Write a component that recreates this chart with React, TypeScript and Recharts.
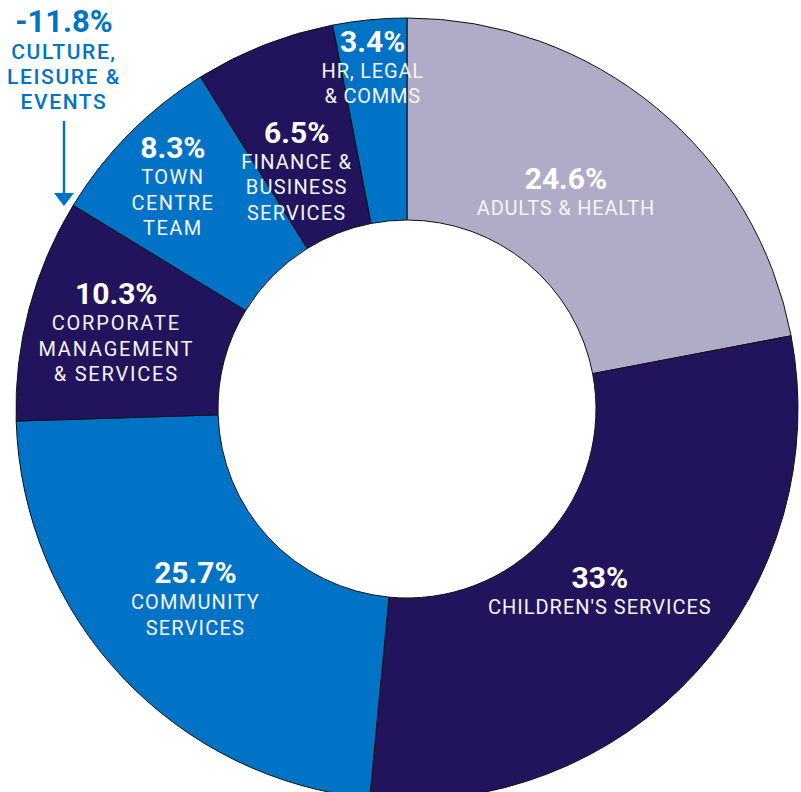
import { Cell, Pie, PieChart } from "recharts";

// Share of the budget by directorate (positive shares fill the ring)
const categories = [
  "Adults & Health",
  "Children's Services",
  "Community Services",
  "Corporate Management & Services",
  "Town Centre Team",
  "Finance & Business Services",
  "HR, Legal & Comms",
];
const shares = [24.6, 33, 25.7, 10.3, 8.3, 6.5, 3.4];
const labelLines = [
  ["ADULTS & HEALTH"],
  ["CHILDREN'S SERVICES"],
  ["COMMUNITY", "SERVICES"],
  ["CORPORATE", "MANAGEMENT", "& SERVICES"],
  ["TOWN", "CENTRE", "TEAM"],
  ["FINANCE &", "BUSINESS", "SERVICES"],
  ["HR, LEGAL", "& COMMS"],
];

// The one negative share, shown outside the ring
const negativeCategory = "Culture, Leisure & Events";
const negativeShare = -11.8;
const negativeLines = ["CULTURE,", "LEISURE &", "EVENTS"];

const LAVENDER = "#B0ACC7";
const NAVY = "#21145D";
const BLUE = "#0073C7";
const sliceColors = [LAVENDER, NAVY, BLUE, NAVY, BLUE, NAVY, BLUE];

// label placement: radius from centre and angle nudge (deg, counter-clockwise)
const labelLayout = [
  { r: 271, da: 3.7, ls: 0.8 },
  { r: 263, da: -0.5, ls: 1 },
  { r: 274, da: -3.7, ls: 1.2 },
  { r: 309, da: -5, ls: 1.8 },
  { r: 343, da: -2.2, ls: 1.5 },
  { r: 288, da: 1.1, ls: 1.2 },
  { r: 359, da: 0, ls: 0.8 },
];

const data = categories.map((name, i) => ({
  name,
  value: shares[i],
  lines: labelLines[i],
}));

const RAD = Math.PI / 180;
const fmt = (v: number) => `${v}%`;

function SliceLabel(props: any) {
  const { cx, cy, midAngle, index } = props;
  const lay = labelLayout[index];
  const a = (midAngle + lay.da) * RAD;
  const x = cx + lay.r * Math.cos(-a);
  const y = cy + lay.r * Math.sin(-a);
  return (
    <g>
      <text
        x={x}
        y={y}
        textAnchor="middle"
        fill="#fff"
        fontSize={30}
        fontWeight={700}
        fontFamily="Roboto"
      >
        {fmt(shares[index])}
      </text>
      {labelLines[index].map((line, i) => (
        <text
          key={line}
          x={x}
          y={y + 26 + 25.5 * i}
          textAnchor="middle"
          fill="#f5f5fa"
          fontSize={20}
          fontFamily="Roboto"
          letterSpacing={lay.ls}
        >
          {line}
        </text>
      ))}
    </g>
  );
}

function NegativeNote() {
  const x = 64;
  const y = 32;
  return (
    <g aria-label={negativeCategory}>
      <text
        x={x}
        y={y}
        textAnchor="middle"
        fill={BLUE}
        fontSize={31}
        fontWeight={700}
        fontFamily="Roboto"
      >
        {fmt(negativeShare)}
      </text>
      {negativeLines.map((line, i) => (
        <text
          key={line}
          x={x}
          y={y + 26.5 + 25 * i}
          textAnchor="middle"
          fill={BLUE}
          fontSize={21}
          fontWeight={500}
          fontFamily="Roboto"
          letterSpacing={1.6}
        >
          {line}
        </text>
      ))}
      <line x1={x} y1={121} x2={x} y2={196} stroke={BLUE} strokeWidth={2.5} />
      <polygon points={`${x - 10},193 ${x + 10},193 ${x},206`} fill={BLUE} />
    </g>
  );
}

export default function App() {
  return (
    <div style={{ position: "absolute", left: 0, top: 0, width: 801, height: 792 }}>
      <PieChart width={801} height={792} margin={{ top: 0, right: 0, bottom: 0, left: 0 }}>
        <Pie
          data={data}
          dataKey="value"
          nameKey="name"
          cx={407}
          cy={409}
          innerRadius={189}
          outerRadius={391}
          startAngle={90}
          endAngle={-270}
          stroke="#111"
          strokeWidth={1}
          label={SliceLabel}
          labelLine={false}
          isAnimationActive={false}
        >
          {data.map((d, i) => (
            <Cell key={d.name} fill={sliceColors[i]} />
          ))}
        </Pie>
        <NegativeNote />
      </PieChart>
    </div>
  );
}
